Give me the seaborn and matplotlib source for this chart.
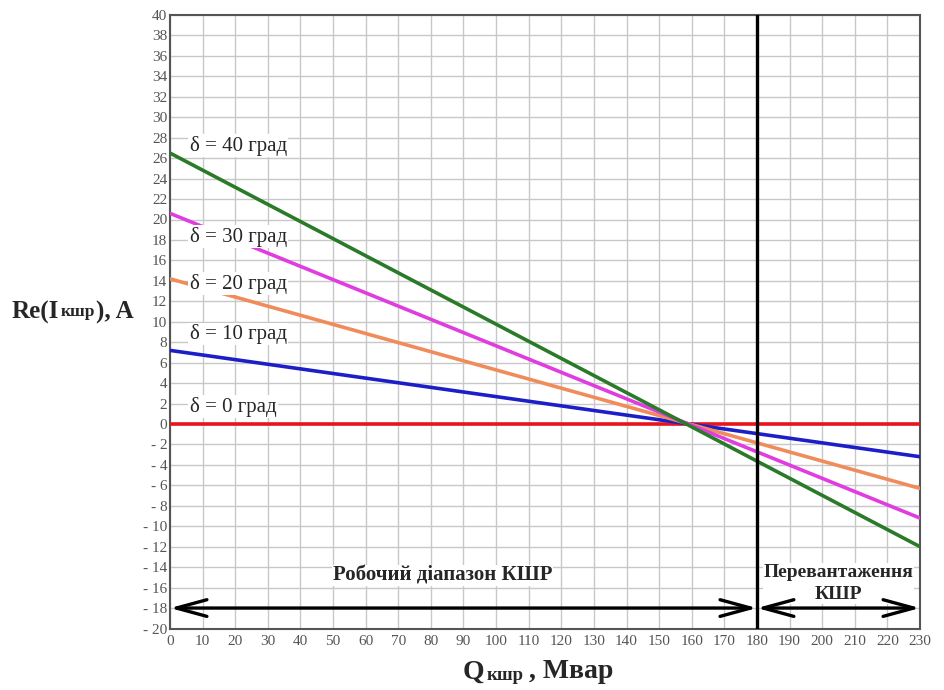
import matplotlib
matplotlib.use("Agg")
import matplotlib.pyplot as plt
import seaborn as sns
import pandas as pd
import numpy as np

# Data
q_points = [0, 230]
delta_labels = ["δ = 0 град", "δ = 10 град", "δ = 20 град", "δ = 30 град", "δ = 40 град"]
re_d0 = [0.0, 0.0]
re_d10 = [7.2, -3.2]
re_d20 = [14.2, -6.3]
re_d30 = [20.6, -9.2]
re_d40 = [26.5, -12.0]
label_pos_y = [1.7, 8.8, 13.7, 18.3, 27.2]
x_ticks = list(range(0, 231, 10))
y_ticks = list(range(-20, 41, 2))

series = [re_d0, re_d10, re_d20, re_d30, re_d40]
colors = ["#e8141c", "#1e1ec8", "#f08c5a", "#e03ce0", "#2a7a2a"]

rows = []
for lab, vals in zip(delta_labels, series):
    for q, v in zip(q_points, vals):
        rows.append({"Q": q, "Re": v, "delta": lab})
df = pd.DataFrame(rows)

sns.set_style("white")
plt.rcParams['font.family'] = ['Liberation Serif', 'DejaVu Serif']

fig = plt.figure(figsize=(9.44, 6.9), dpi=100)
ax = fig.add_axes([170/944, 1-628.5/690, 750/944, (628.5-15)/690])

for lab, c in zip(delta_labels, colors):
    sns.lineplot(data=df[df["delta"] == lab], x="Q", y="Re", ax=ax, color=c, lw=2.6, legend=False, zorder=3)

ax.set_xlim(0, 230)
ax.set_ylim(-20, 40)
ax.set_xticks(x_ticks)
ax.set_yticks(y_ticks)
ax.set_xticklabels([str(t) for t in x_ticks])
ax.set_yticklabels([str(t) if t >= 0 else "- " + str(-t) for t in y_ticks])
ax.grid(True, color="#c8c8c8", lw=1.0)
ax.tick_params(axis="both", labelsize=11, labelcolor="#555555", length=0, pad=2)
ax.tick_params(axis="x", pad=5)
for s in ax.spines.values():
    s.set_color("#555555")
    s.set_linewidth(1.5)
ax.set_xlabel("")
ax.set_ylabel("")

# delta labels
for lab, y in zip(delta_labels, label_pos_y):
    ax.text(6, y, lab, fontsize=15, va="center", ha="left", zorder=4,
            bbox=dict(facecolor="white", edgecolor="none", pad=1.0))

# vertical line at 180
ax.axvline(180, color="black", lw=2.4, zorder=5)

# range arrows
arrowprops = dict(arrowstyle="<->,head_length=2.2,head_width=0.6", lw=2.4, color="black", shrinkA=0, shrinkB=0)
ax.annotate("", xy=(0, -18), xytext=(180, -18), arrowprops=arrowprops, zorder=5)
ax.annotate("", xy=(180, -18), xytext=(230, -18), arrowprops=arrowprops, zorder=5)
ax.text(83.5, -14.8, "Робочий діапазон КШР", fontsize=15, fontweight="bold", ha="center", va="center", zorder=4,
        bbox=dict(facecolor="white", edgecolor="none", pad=0.5))
ax.text(205, -15.6, "Перевантаження\nКШР", fontsize=14, fontweight="bold", ha="center", va="center",
        linespacing=1.35, zorder=4, bbox=dict(facecolor="white", edgecolor="none", pad=0.5))

# y axis label (with subscript)
t1 = fig.text(12/944, 1-312/690, "Re(I", fontsize=18, fontweight="bold", va="center", ha="left")
t2 = fig.text(0, 0, "кшр", fontsize=12.5, fontweight="bold", va="center", ha="left")
t3 = fig.text(0, 0, "), A", fontsize=18, fontweight="bold", va="center", ha="left")
fig.canvas.draw()
r = fig.canvas.get_renderer()
bb1 = t1.get_window_extent(r)
t2.set_position(((bb1.x1 + 1)/944, (690-312)/690))
fig.canvas.draw()
bb2 = t2.get_window_extent(r)
t3.set_position(((bb2.x1 + 1)/944, 1-312/690))

# x label
x1 = fig.text(463/944, 1-672/690, "Q", fontsize=20, fontweight="bold", va="center", ha="left")
x2 = fig.text(0, 0, "кшр", fontsize=13.5, fontweight="bold", va="center", ha="left")
x3 = fig.text(0, 0, " , Мвар", fontsize=20, fontweight="bold", va="center", ha="left")
fig.canvas.draw()
b = x1.get_window_extent(r)
x2.set_position(((b.x1 + 2)/944, (690-676)/690))
fig.canvas.draw()
b = x2.get_window_extent(r)
x3.set_position(((b.x1 - 2)/944, 1-672/690))

fig.savefig("out.png", dpi=100)
